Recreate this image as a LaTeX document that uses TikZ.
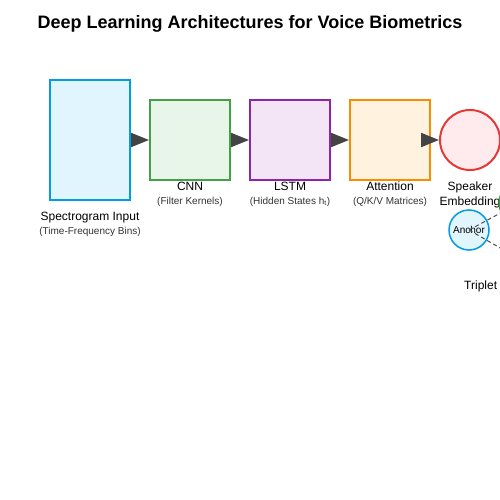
\documentclass[tikz,border=0pt]{standalone}
\usepackage{fontspec}
\setmainfont{Liberation Sans}
\usetikzlibrary{positioning,arrows.meta}

\definecolor{specfill}{HTML}{E1F5FE}
\definecolor{specline}{HTML}{039BE5}
\definecolor{cnnfill}{HTML}{E8F5E9}
\definecolor{cnnline}{HTML}{43A047}
\definecolor{lstmfill}{HTML}{F3E5F5}
\definecolor{lstmline}{HTML}{8E24AA}
\definecolor{attfill}{HTML}{FFF3E0}
\definecolor{attline}{HTML}{FB8C00}
\definecolor{embfill}{HTML}{FFEBEE}
\definecolor{embline}{HTML}{E53935}
\definecolor{arrowgray}{HTML}{444444}

\begin{document}
\begin{tikzpicture}[x=1pt,y=-1pt,
    block/.style={rectangle,draw,line width=2pt,minimum width=80pt,minimum height=80pt,inner sep=0pt},
    flow/.style={-{Triangle[length=18pt,width=14pt]},line width=2pt,draw=arrowgray},
    stagename/.style={font=\fontsize{12}{14}\selectfont,anchor=base,inner sep=0pt},
    stagedetail/.style={font=\fontsize{10}{12}\selectfont,anchor=base,inner sep=0pt,text=black!80}]
    \useasboundingbox (0,0) rectangle (500,500);
    \fill[white] (0,0) rectangle (500,500);

    % Title
    \node[font=\bfseries\fontsize{18}{22}\selectfont] (title) at (250,24) {Deep Learning Architectures for Voice Biometrics};

    % Pipeline stages
    \node[block,minimum height=120pt,fill=specfill,draw=specline] (spec) at (90,140) {};
    \node[block,fill=cnnfill,draw=cnnline] (cnn) at (190,140) {};
    \node[block,fill=lstmfill,draw=lstmline] (lstm) at (290,140) {};
    \node[block,fill=attfill,draw=attline] (att) at (390,140) {};
    \node[circle,draw,line width=2pt,minimum size=60pt,inner sep=0pt,fill=embfill,draw=embline] (emb) at (470,140) {};

    % Stage labels
    \node[stagename] (specname) at (90,220) {Spectrogram Input};
    \node[stagedetail] (specdetail) at (90,234) {(Time-Frequency Bins)};
    \node[stagename] (cnnname) at (190,190) {CNN};
    \node[stagedetail] (cnndetail) at (190,204) {(Filter Kernels)};
    \node[stagename] (lstmname) at (290,190) {LSTM};
    \node[stagedetail] (lstmdetail) at (290,204) {(Hidden States h\textsubscript{t})};
    \node[stagename] (attname) at (390,190) {Attention};
    \node[stagedetail] (attdetail) at (390,204) {(Q/K/V Matrices)};
    \node[stagename] (embname) at (470,190) {Speaker};
    \node[stagename] (embname2) at (470,205) {Embedding};

    % Triplet
    \node[circle,draw,line width=1.5pt,minimum size=40pt,inner sep=0pt,fill=cnnfill,draw=cnnline] (pos) at (519,203) {};
    \node[circle,draw,line width=1.5pt,minimum size=40pt,inner sep=0pt,fill=embfill,draw=embline] (neg) at (521,260) {};
    \node[circle,draw,line width=1.5pt,minimum size=40pt,inner sep=0pt,fill=specfill,draw=specline,font=\fontsize{10}{12}\selectfont] (anchor) at (469,230) {Anchor};
    \node[stagename,anchor=base west] (triplet) at (464,289) {Triplet};

    % Arrows
    \draw[flow] (spec.east) -- (cnn.west);
    \draw[flow] (cnn.east) -- (lstm.west);
    \draw[flow] (lstm.east) -- (att.west);
    \draw[flow] (att.east) -- (emb.west);
    \draw[dash pattern=on 4pt off 3pt,line width=1pt,draw=black!70] (anchor.center) -- (pos.center);
    \draw[dash pattern=on 4pt off 3pt,line width=1pt,draw=black!70] (anchor.center) -- (neg.center);
\end{tikzpicture}
\end{document}
